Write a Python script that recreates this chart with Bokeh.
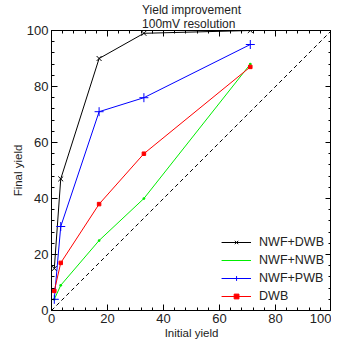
from bokeh.plotting import figure
from bokeh.layouts import row
from bokeh.models import (LinearAxis, Range1d, Legend, LegendItem, Title, BasicTicker,
                          CustomJSTickFormatter, Spacer)
from bokeh.embed import file_html
from bokeh.resources import INLINE

# Data
x_vals = [1, 3.3, 17, 33, 71]
nwf_dwb = [15, 47, 90, 99, 100]
nwf_nwb = [4, 9, 25, 40, 88]
nwf_pwb = [4, 30, 71, 76, 95]
dwb = [7, 17, 38, 56, 87]
diag_x = [0, 100]
diag_y = [0, 100]

FONT = "Liberation Sans"

p = figure(frame_width=280, frame_height=280, output_backend="svg", toolbar_location=None,
           x_range=Range1d(0, 100), y_range=Range1d(0, 100),
           min_border_left=0, min_border_right=0, min_border_top=0, min_border_bottom=0)
p.title = Title(text="Yield improvement\n100mV resolution", align="center",
                text_font=FONT, text_font_size="12px", text_font_style="normal",
                text_color="#222222", standoff=0, offset=0)
p.outline_line_color = "black"
p.outline_line_width = 1
p.xgrid.visible = False
p.ygrid.visible = False
p.background_fill_color = "white"
p.border_fill_color = "white"

def style_axis(ax, show_labels=True):
    ax.ticker = BasicTicker(desired_num_ticks=5, num_minor_ticks=5)
    ax.major_tick_in = 6
    ax.major_tick_out = 0
    ax.minor_tick_in = 3
    ax.minor_tick_out = 0
    ax.axis_line_color = "black"
    ax.major_tick_line_color = "black"
    ax.minor_tick_line_color = "black"
    ax.major_label_text_font = FONT
    ax.major_label_text_color = "#222222"
    ax.axis_label_text_font = FONT
    ax.axis_label_text_font_style = "normal"
    ax.axis_label_text_color = "#222222"
    if show_labels:
        ax.major_label_text_font_size = "13px"
        ax.major_label_standoff = 3
        ax.axis_label_text_font_size = "11.5px"
        ax.axis_label_standoff = 1
    else:
        ax.formatter = CustomJSTickFormatter(code="return ''")
        ax.major_label_text_font_size = "1px"
        ax.major_label_standoff = 0
        ax.axis_label_standoff = 0

style_axis(p.xaxis[0])
style_axis(p.yaxis[0])
p.xaxis[0].axis_label = "Initial yield"
p.yaxis[0].axis_label = "Final yield"
p.yaxis[0].axis_label_standoff = 0

top_ax = LinearAxis()
right_ax = LinearAxis()
style_axis(top_ax, False)
style_axis(right_ax, False)
p.add_layout(top_ax, "above")
p.add_layout(right_ax, "right")

p.line(diag_x, diag_y, line_color="black", line_dash="4 3", line_width=1)

r1l = p.line(x_vals, nwf_dwb, line_color="black", line_width=1)
r1m = p.scatter(x_vals, nwf_dwb, marker="x", size=7, line_color="black", line_width=1)
r2l = p.line(x_vals, nwf_nwb, line_color="#00ee00", line_width=1)
r2m = p.scatter(x_vals, nwf_nwb, marker="dot", size=11, line_color="#00ee00", fill_color="#00ee00")
r3l = p.line(x_vals, nwf_pwb, line_color="blue", line_width=1)
r3m = p.scatter(x_vals, nwf_pwb, marker="cross", size=9, line_color="blue", line_width=1)
r4l = p.line(x_vals, dwb, line_color="red", line_width=1)
r4m = p.scatter(x_vals, dwb, marker="square", size=3.5, line_color="red", fill_color="red")

legend = Legend(items=[
    LegendItem(label="NWF+DWB", renderers=[r1l, r1m]),
    LegendItem(label="NWF+NWB", renderers=[r2l, r2m]),
    LegendItem(label="NWF+PWB", renderers=[r3l, r3m]),
    LegendItem(label="DWB", renderers=[r4l, r4m]),
], location="bottom_right")
legend.label_text_font = FONT
legend.label_text_font_size = "12.5px"
legend.label_text_color = "#222222"
legend.glyph_width = 30
legend.glyph_height = 12
legend.label_height = 14
legend.spacing = 4
legend.padding = 3
legend.margin = 4
legend.label_standoff = 8
legend.border_line_alpha = 0
legend.background_fill_alpha = 0
p.add_layout(legend)

layout = row(Spacer(width=8, height=10), p)
open("out.html", "w").write(file_html(layout, INLINE))
